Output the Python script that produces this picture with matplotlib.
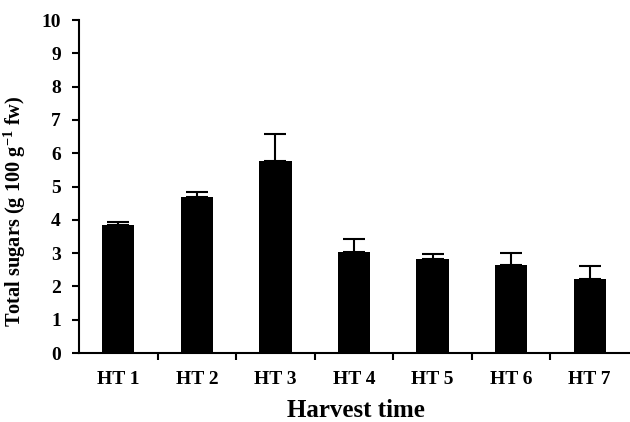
import matplotlib
matplotlib.use('Agg')
import matplotlib.pyplot as plt
import numpy as np

# values
harvest = ['HT 1', 'HT 2', 'HT 3', 'HT 4', 'HT 5', 'HT 6', 'HT 7']
sugars = [3.83, 4.69, 5.77, 3.03, 2.81, 2.63, 2.23]
sugars_err = [0.10, 0.15, 0.80, 0.38, 0.15, 0.38, 0.39]

plt.rcParams['font.family'] = 'Liberation Serif'
plt.rcParams['font.weight'] = 'bold'
plt.rcParams['mathtext.fontset'] = 'custom'
plt.rcParams['mathtext.rm'] = 'Liberation Serif:bold'
plt.rcParams['mathtext.bf'] = 'Liberation Serif:bold'
plt.rcParams['mathtext.default'] = 'rm'

fig = plt.figure(figsize=(6.3, 4.22), dpi=100)
ax = fig.add_axes([0.1254, 0.1635, 0.873, 0.789])

x = np.arange(len(harvest))
ax.bar(x, sugars, width=0.41, color='black',
       yerr=[np.zeros(len(harvest)), sugars_err],
       error_kw=dict(ecolor='black', elinewidth=1.5, capsize=8, capthick=1.5))

ax.set_xlim(-0.5, len(harvest) - 0.5)
ax.set_ylim(0, 10)
ax.set_yticks(range(0, 11))
ax.set_xticks(x)
ax.set_xticklabels(harvest)
ax.set_xticks(x[:-1] + 0.5, minor=True)
ax.tick_params(axis='x', which='major', length=0, pad=13, labelsize=14)
ax.tick_params(axis='x', which='minor', length=5, width=1.5, direction='out')
ax.tick_params(axis='y', length=5, width=1.5, direction='out', labelsize=14, pad=8)

for s in ['top', 'right']:
    ax.spines[s].set_visible(False)
for s in ['left', 'bottom']:
    ax.spines[s].set_linewidth(1.5)

ax.set_xlabel('Harvest time', fontsize=18, fontweight='bold', va='top')
ax.xaxis.set_label_coords(0.504, -0.139)
ax.set_ylabel(r'Total sugars (g 100 g$^{-1}$ fw)', fontsize=14.7, fontweight='bold')
ax.yaxis.set_label_coords(-0.093, 0.426)

fig.savefig('out.png', dpi=100)
